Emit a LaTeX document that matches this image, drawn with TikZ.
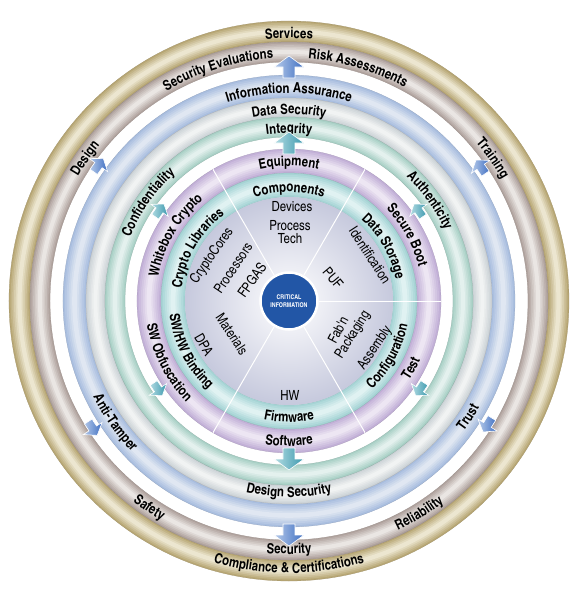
\documentclass[tikz,border=0pt]{standalone}
\usepackage{fontspec}
\newfontfamily\cnfont{texgyreheroscn}[Extension=.otf, UprightFont=*-regular, BoldFont=*-bold]
\usetikzlibrary{decorations.text}

\definecolor{goldedge}{HTML}{B8A775}
\definecolor{goldmid}{HTML}{ECE6D0}
\definecolor{mauveedge}{HTML}{B0A39E}
\definecolor{mauvemid}{HTML}{EAE6E3}
\definecolor{blueedge}{HTML}{A9BEDF}
\definecolor{bluemid}{HTML}{E0E7F2}
\definecolor{grayedge}{HTML}{CDD3D7}
\definecolor{graymid}{HTML}{F1F3F3}
\definecolor{tealedge}{HTML}{A9D0C6}
\definecolor{tealmid}{HTML}{E4F1EE}
\definecolor{purpleedge}{HTML}{C2B0D7}
\definecolor{purplemid}{HTML}{EDE6F3}
\definecolor{ltealedge}{HTML}{A6D4D5}
\definecolor{ltealmid}{HTML}{E0F2F2}
\definecolor{discedge}{HTML}{C6C9DD}
\definecolor{critblue}{HTML}{2256A6}
\definecolor{arrowblue}{HTML}{3F6FC2}
\definecolor{arrowlight}{HTML}{B7CBEA}
\definecolor{arrowteal}{HTML}{3B98AE}
\definecolor{arrowtlight}{HTML}{B5DDE3}

\newcommand\ringfont{\cnfont\bfseries\fontsize{14}{14}\selectfont}
\newcommand\discfont{\cnfont\fontsize{14}{14}\selectfont}

% ring band with a soft middle
\newcommand\bandring[4]{%
  \foreach \p in {0,20,40,60,80,100}
    \draw[line width={(#2-#1)*(1-\p/125)}, #4!\p!#3] (0,0) circle ({(#1+#2)/2});
  \draw[#3!85!black, line width=0.25] (0,0) circle (#1) (0,0) circle (#2);
}
% label on a ring, read clockwise / counter clockwise
\newcommand\cwtext[3]{%
  \path[decorate, decoration={text along path, text align=center, text={|\ringfont|#1}}]
    ({#2+50}:{#3-5}) arc[start angle={#2+50}, end angle={#2-50}, radius={#3-5}];}
\newcommand\ccwtext[3]{%
  \path[decorate, decoration={text along path, text align=center, text={|\ringfont|#1}}]
    ({#2-50}:{#3+5}) arc[start angle={#2-50}, end angle={#2+50}, radius={#3+5}];}

\begin{document}
\begin{tikzpicture}[x=1pt, y=1pt,
  critical/.style={circle, fill=critblue, draw=white, line width=2.5, minimum size=57,
    inner sep=0, text=white, align=center, font=\cnfont\bfseries\fontsize{6.5}{8}\selectfont},
  disclabel/.style={font=\discfont, align=center, inner sep=1},
  spoke/.style={white, line width=1},
  outarrow/.style={left color=arrowlight, right color=arrowblue, draw=white, line width=0.6},
  inarrow/.style={left color=arrowtlight, right color=arrowteal, draw=white, line width=0.6}]
\useasboundingbox (-289,-289) rectangle (291,301);
\fill[white] (-289,-289) rectangle (291,301);

% rings
\bandring{259}{280}{goldedge}{goldmid}
\bandring{239}{259}{mauveedge}{mauvemid}
\bandring{203}{226}{blueedge}{bluemid}
\bandring{184}{203}{grayedge}{graymid}
\bandring{164}{184}{tealedge}{tealmid}
\bandring{128}{152}{purpleedge}{purplemid}
\bandring{104}{128}{ltealedge}{ltealmid}
\shade[inner color=white, outer color=discedge] (0,0) circle (104);

\node[critical] (crit) at (0,0) {CRITICAL\\INFORMATION};
\foreach \a in {0,60,120,240,300}
  \draw[spoke] (crit.\a) -- (\a:152);

% inner disc
\node[disclabel] (devices) at (3,94) {Devices};
\node[disclabel] (process) at (1,69) {Process\\[-1pt]Tech};
\node[disclabel, rotate=55] (cores) at (-77,45) {CryptoCores};
\node[disclabel, rotate=56] (procs) at (-56,33) {Processors};
\node[disclabel, rotate=55] (fpgas) at (-37,21) {FPGAS};
\node[disclabel, rotate=-57] (materials) at (-57,-33) {Materials};
\node[disclabel, rotate=-60] (dpa) at (-85,-44) {DPA};
\node[disclabel, rotate=-57] (ident) at (81,46) {Identification};
\node[disclabel, rotate=-50] (puf) at (44,23) {PUF};
\node[disclabel, rotate=62] (fabn) at (49,-29) {Fab'n};
\node[disclabel, rotate=58] (packaging) at (64,-34) {Packaging};
\node[disclabel, rotate=56] (assembly) at (86,-47) {Assembly};
\node[disclabel] (hw) at (1,-94) {HW};

% ring labels
\cwtext{Services}{90}{268}
\ccwtext{Compliance {\&} Certifications}{270}{267}
\cwtext{Security Evaluations}{107}{248}
\cwtext{Risk Assessments}{73.5}{248}
\cwtext{Design}{145}{250}
\cwtext{Training}{35}{250}
\ccwtext{Safety}{236}{249}
\ccwtext{Reliability}{301.5}{249}
\ccwtext{Security}{270}{248}
\cwtext{Information Assurance}{90}{213}
\ccwtext{Anti-Tamper}{215}{213}
\ccwtext{Trust}{327}{213}
\cwtext{Data Security}{90}{192}
\ccwtext{Design Security}{270}{191}
\cwtext{Integrity}{90}{173}
\cwtext{Confidentiality}{145}{176}
\cwtext{Authenticity}{35.5}{176}
\cwtext{Equipment}{90}{140}
\cwtext{Whitebox Crypto}{150}{138}
\cwtext{Secure Boot}{29}{139}
\ccwtext{SW Obfuscation}{207}{139}
\ccwtext{Test}{331}{139}
\ccwtext{Software}{270}{140}
\cwtext{Components}{90}{114}
\cwtext{Crypto Libraries}{150}{113}
\cwtext{Data Storage}{30}{114}
\ccwtext{SW/HW Binding}{207}{115}
\ccwtext{Configuration}{331}{116}
\ccwtext{Firmware}{270}{116}

% arrows in the gaps
\foreach \pos/\dir/\s in {90/90/1,144.5/54.5/0.75,35/125/0.75,213/303/0.75,328/238/0.75,270/270/1}
  \shadedraw[outarrow, shift={(\pos:234)}, rotate=\dir, scale=\s]
    (-11,-6) -- (0,-6) -- (0,-15) -- (11,0) -- (0,15) -- (0,6) -- (-11,6) -- cycle;
\foreach \pos/\dir/\s in {90/90/1,145/55/0.7,35/125/0.7,214/304/0.7,326/236/0.7,270/270/1}
  \shadedraw[inarrow, shift={(\pos:158)}, rotate=\dir, scale=\s]
    (-11,-6) -- (0,-6) -- (0,-15) -- (11,0) -- (0,15) -- (0,6) -- (-11,6) -- cycle;
\end{tikzpicture}
\end{document}
